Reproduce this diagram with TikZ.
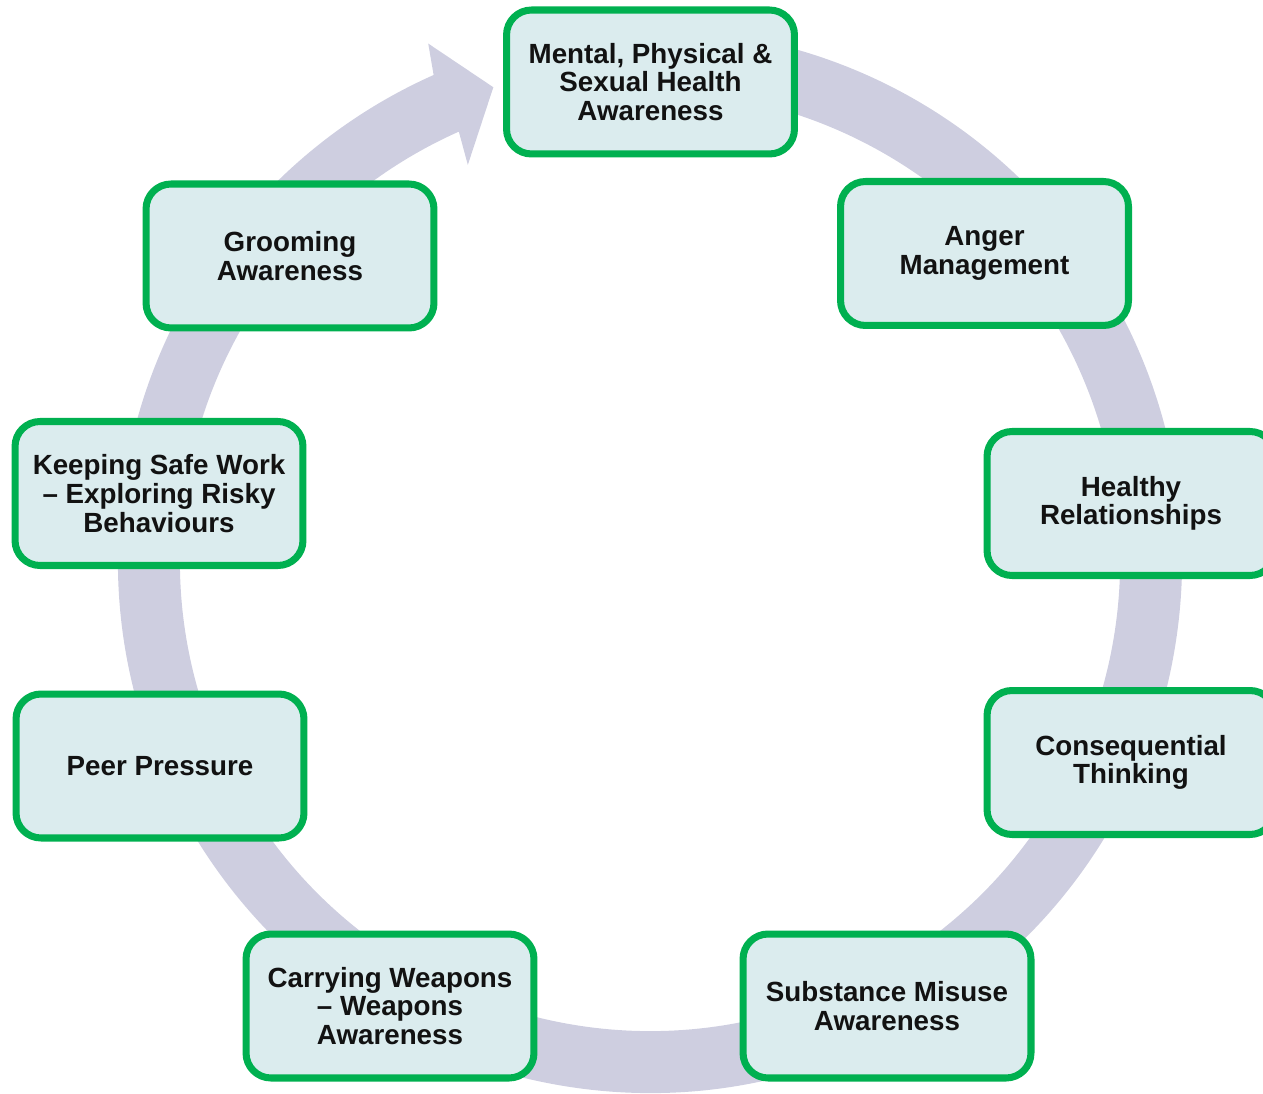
\documentclass[tikz,border=0pt]{standalone}
\usepackage{fontspec}
\setmainfont{Liberation Sans}
\usepackage{tikz}
\usetikzlibrary{positioning}
\definecolor{ringc}{RGB}{206,206,224}
\definecolor{edgec}{RGB}{0,176,80}
\definecolor{fillc}{RGB}{219,236,238}
\tikzset{topic/.style={draw=edgec, line width=4pt, fill=fillc, rounded corners=0.5cm,
  minimum width=5.76cm, minimum height=2.88cm, inner sep=0pt, align=center,
  font=\fontsize{15.8}{16.3}\selectfont\bfseries, text=black!93}}

\begin{document}
\begin{tikzpicture}[x={(0.02cm,0)}, y={(0,0.02cm)}]
  \useasboundingbox (0,0) rectangle (1263,1093);
  % the big cycle arrow
  \begin{scope}[shift={(650,532)}]
    \fill[ringc] (80:532) arc[start angle=80, end angle=-246, radius=532]
      -- (-246.8:563) -- (-251.7:499) -- (-245.3:436) -- (-246:470)
      arc[start angle=-246, end angle=80, radius=470] -- cycle;
  \end{scope}
  \node[topic] (mental) at (650.5,1011) {Mental, Physical \&\\Sexual Health\\Awareness};
  \node[topic] (anger) at (984.5,839.5) {Anger\\Management};
  \node[topic] (healthy) at (1131,589.5) {Healthy\\Relationships};
  \node[topic] (conseq) at (1131,330.5) {Consequential\\Thinking};
  \node[topic] (substance) at (887,87) {Substance Misuse\\Awareness};
  \node[topic] (weapons) at (390,87) {Carrying Weapons\\– Weapons\\Awareness};
  \node[topic] (peer) at (160,327) {Peer Pressure};
  \node[topic] (risky) at (159,599.5) {Keeping Safe Work\\– Exploring Risky\\Behaviours};
  \node[topic] (grooming) at (290,837) {Grooming\\Awareness};
\end{tikzpicture}
\end{document}
